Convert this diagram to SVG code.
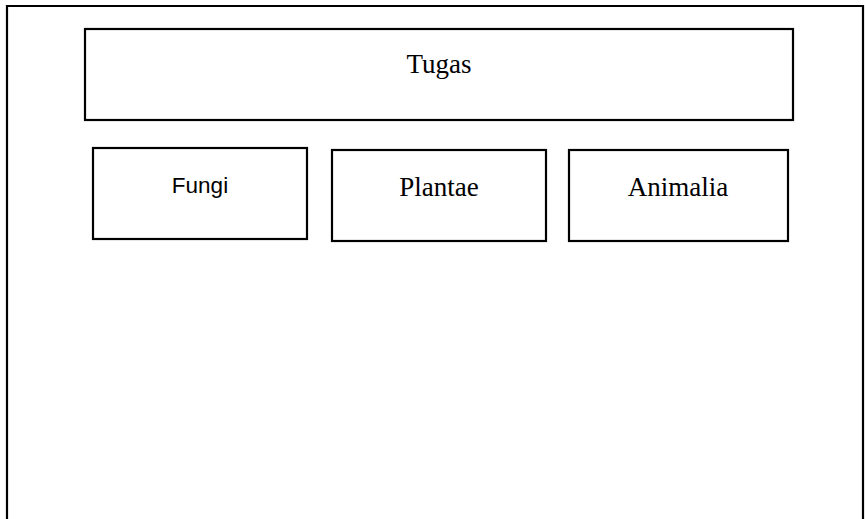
<svg xmlns="http://www.w3.org/2000/svg" width="865" height="519" viewBox="0 0 865 519">
  <style>
    .box { fill: #ffffff; stroke: #000000; stroke-width: 2.2; }
    .frame { fill: none; stroke: #000000; stroke-width: 2.2; }
    .serif { font-family: "Liberation Serif", "Times New Roman", serif; font-size: 27px; fill: #000000; text-anchor: middle; }
    .sans { font-family: "Liberation Sans", Arial, sans-serif; font-size: 22.5px; fill: #000000; text-anchor: middle; }
  </style>
  <rect x="0" y="0" width="865" height="519" fill="#ffffff"/>
  <!-- page frame, open at the bottom -->
  <path class="frame" d="M7,519 V6 H863 V519"/>
  <g id="connectors"></g>
  <g id="tugas">
    <rect class="box" x="85" y="29" width="708" height="91"/>
    <text class="serif" x="439" y="73">Tugas</text>
  </g>
  <g id="fungi">
    <rect class="box" x="93" y="148" width="214" height="91"/>
    <text class="sans" x="200" y="193">Fungi</text>
  </g>
  <g id="plantae">
    <rect class="box" x="332" y="150" width="214" height="91"/>
    <text class="serif" x="439" y="196">Plantae</text>
  </g>
  <g id="animalia">
    <rect class="box" x="569" y="150" width="219" height="91"/>
    <text class="serif" x="678" y="196">Animalia</text>
  </g>
</svg>
